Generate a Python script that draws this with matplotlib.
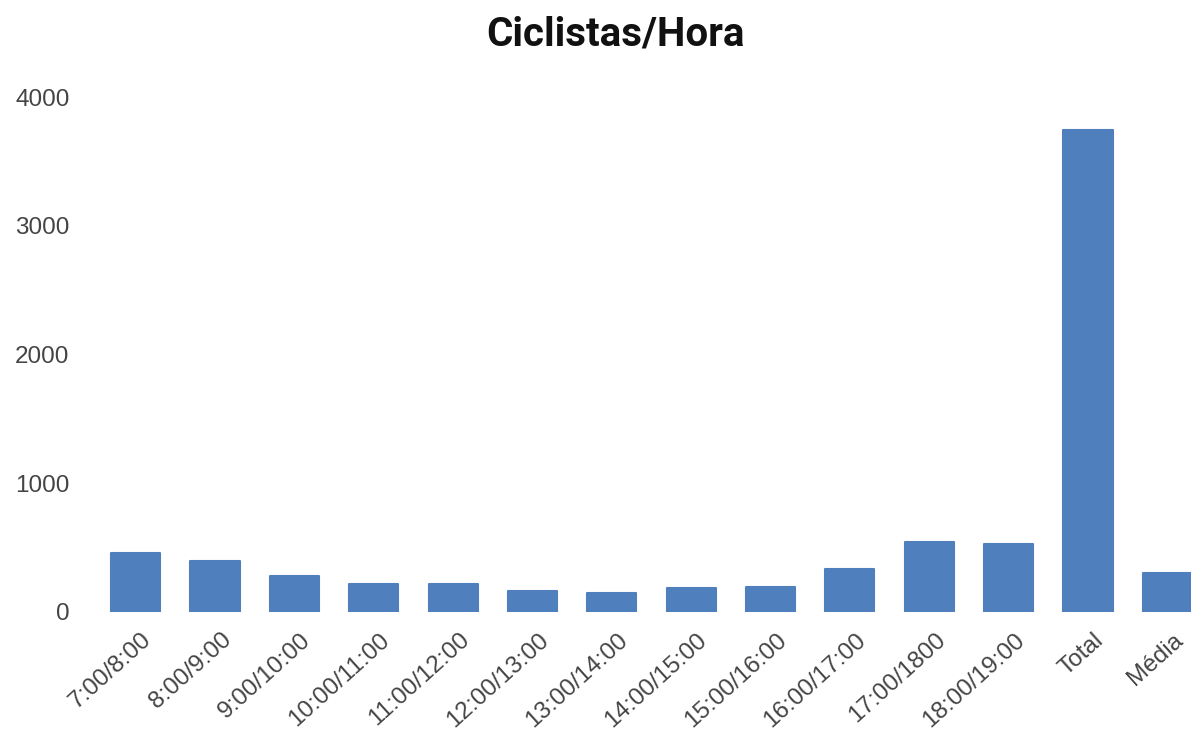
import matplotlib
matplotlib.use("Agg")
import matplotlib.pyplot as plt
from matplotlib.transforms import ScaledTranslation

categories = ["7:00/8:00", "8:00/9:00", "9:00/10:00", "10:00/11:00", "11:00/12:00",
              "12:00/13:00", "13:00/14:00", "14:00/15:00", "15:00/16:00", "16:00/17:00",
              "17:00/1800", "18:00/19:00", "Total", "Média"]
values = [460, 396, 280, 215, 215, 163, 150, 184, 197, 331, 546, 528, 3744, 300]
yticks = [0, 1000, 2000, 3000, 4000]

W, H = 1191, 733
fig = plt.figure(figsize=(W / 100, H / 100), dpi=100)
left, right = 96, 1207
bottom, top = 612, 97
ax = fig.add_axes([left / W, (H - bottom) / H, (right - left) / W, (bottom - top) / H])

color = "#4f80bd"
x = list(range(len(categories)))
ax.bar(x, values, width=0.62, color=color, edgecolor=color, linewidth=1.5,
       joinstyle="round")
ax.set_xlim(-0.5, len(categories) - 0.5)
ax.set_ylim(0, 4000)
ax.set_yticks(yticks)
ax.set_yticklabels([str(t) for t in yticks], fontsize=17.5, color="#444444",
                   family="Liberation Sans")
ax.set_xticks(x)
ax.set_xticklabels(categories, rotation=42, ha="right", va="center",
                   rotation_mode="anchor",
                   fontsize=17.5, color="#444444", family="Liberation Sans")
ax.tick_params(axis="y", length=0, pad=19)
ax.tick_params(axis="x", length=0, pad=18)
off = ScaledTranslation(13 / 100, 0, fig.dpi_scale_trans)
for lab in ax.get_xticklabels():
    lab.set_transform(lab.get_transform() + off)
for s in ax.spines.values():
    s.set_visible(False)

fig.text(616 / W, 1 - 45 / H, "Ciclistas/Hora", ha="center", va="baseline",
         fontsize=29, fontweight="bold", family="Roboto", color="#111111")

fig.savefig("out.png", dpi=100)
